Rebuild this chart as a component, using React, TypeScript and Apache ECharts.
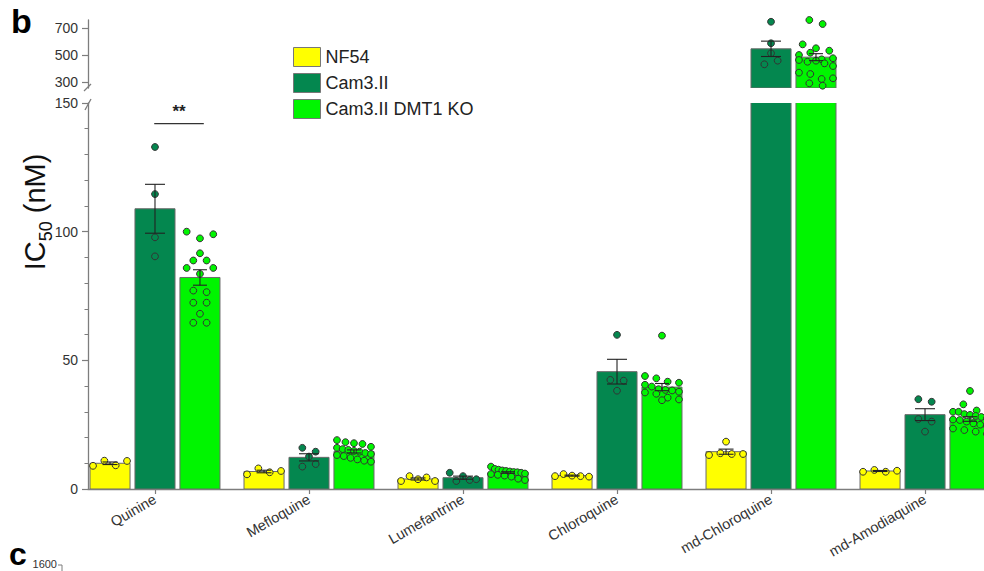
import React, { useEffect, useRef } from "react";
import * as echarts from "echarts";

// Drugs on the x axis and strains in the legend
const drugs = ["Quinine", "Mefloquine", "Lumefantrine", "Chloroquine", "md-Chloroquine", "md-Amodiaquine"];
const strains = ["NF54", "Cam3.II", "Cam3.II DMT1 KO"];
const strainColors = ["#FFFF00", "#04874F", "#00F500"];

// Mean IC50 (nM) per drug
const meanNF54 = [10.0, 6.8, 3.9, 5.2, 14.5, 7.0];
const meanCam3 = [108.9, 12.3, 4.4, 45.6, 546, 28.9];
const meanKO = [82.2, 14.6, 6.4, 39.6, 484, 27.2];

// Standard error of the mean
const semNF54 = [0.5, 0.5, 0.4, 0.2, 1.0, 0.2];
const semCam3 = [9.5, 1.4, 0.6, 4.8, 57, 2.3];
const semKO = [3.0, 0.6, 0.3, 1.4, 26, 0.9];

// Individual replicate IC50 values (nM)
const ptsNF54 = [
  [9.0, 11.0, 9.2, 10.9],
  [5.7, 8.0, 6.5, 7.0],
  [3.1, 5.0, 3.8, 4.5, 3.1],
  [5.0, 5.8, 5.2, 5.0, 4.8],
  [18.4, 13.2, 13.9, 13.6, 13.6],
  [6.7, 7.4, 6.7, 7.1],
];
const ptsCam3 = [
  [132.9, 114.6, 97.8, 90.4],
  [16.0, 14.5, 12.6, 8.7, 9.7],
  [6.3, 3.1, 5.0, 3.5, 3.8],
  [59.9, 42.4, 42.1, 38.2],
  [747, 587, 513, 431, 458],
  [34.9, 33.9, 27.2, 26.2, 22.3],
];
const ptsKO = [
  [100, 97.4, 99, 91.6, 88.8, 88.8, 85.9, 83.6, 85.9, 77.1, 76.5, 72.4, 72.4, 68.1, 64.6, 64.6],
  [19.0, 18.2, 17.8, 17.5, 16.4, 16.0, 15.5, 15.2, 14.8, 14.5, 14.0, 13.6, 13.2, 12.8, 12.1, 11.5, 11.0, 10.6],
  [8.7, 7.8, 7.5, 7.2, 7.0, 6.8, 6.6, 6.5, 6.3, 6.0, 5.8, 5.5, 5.2, 4.8, 4.0, 3.5],
  [59.6, 43.9, 43.0, 41.7, 41.3, 40.5, 39.8, 38.8, 38.5, 38.3, 37.8, 37.5, 37.0, 35.5, 34.8, 34.5],
  [760, 730, 579, 550, 532, 500, 517, 463, 468, 450, 458, 476, 438, 418, 369, 359, 322, 327, 290, 272],
  [38.1, 32.9, 30.5, 30.0, 30.0, 29.1, 28.8, 28.4, 28.0, 27.5, 27.0, 26.8, 26.2, 25.5, 25.0, 24.5, 23.5, 22.9, 22.3, 21.4],
];

// Significance bracket (Quinine, Cam3.II vs DMT1 KO)
const sigDrug = 0;
const sigLevel = 142;
const sigText = "**";

// Axis tick labels
const lowerTicks = [0, 50, 100, 150];
const upperLabelTicks = [300, 500, 700];
const upperMinorTicks = [350, 400, 450, 550, 600, 650];

const means = [meanNF54, meanCam3, meanKO];
const sems = [semNF54, semCam3, semKO];
const points = [ptsNF54, ptsCam3, ptsKO];

const FONT = "'Liberation Sans', Arial, Helvetica, sans-serif";
const AXIS_COLOR = "#7d7d7d";
const LABEL_COLOR = "#333";
const OFFSETS = [-0.292, 0, 0.292];
const BAR_W = 0.26;
const CAP_PX = [15, 20, 14];
const LOWER_MAX = 150;
const UPPER_MIN = 255;
const UPPER_MAX = 760;
const R = 3.4;
const ROW_H = 7;
const ROW_STEP = 13.3;
const ROW_SPAN = 34;
const X_MIN = -0.435;
const X_MAX = 5.383;

// Scatter-dot layout: points whose pixel heights lie within one row are spread
// symmetrically about the bar centre, squeezed to fit inside the bar.
function rowLayout(ys: number[]): number[] {
  const order = ys.map((_, i) => i).sort((a, b) => ys[a] - ys[b]);
  const dx = new Array(ys.length).fill(0);
  let row: number[] = [];
  let start = 0;
  const flush = () => {
    const r = row.slice().sort((a, b) => a - b);
    const n = r.length;
    const step = n > 1 ? Math.min(ROW_STEP, ROW_SPAN / (n - 1)) : 0;
    r.forEach((idx, k) => {
      dx[idx] = (k - (n - 1) / 2) * step;
    });
  };
  for (const i of order) {
    if (row.length && ys[i] - start > ROW_H) {
      flush();
      row = [];
    }
    if (!row.length) start = ys[i];
    row.push(i);
  }
  if (row.length) flush();
  return dx;
}

function barSeries(s: number, upper: boolean) {
  const base = upper ? UPPER_MIN : 0;
  return {
    type: "custom",
    name: strains[s],
    xAxisIndex: upper ? 1 : 0,
    yAxisIndex: upper ? 1 : 0,
    clip: true,
    z: 2,
    itemStyle: { color: strainColors[s], borderColor: "#666", borderWidth: 1 },
    encode: { x: 0, y: 1 },
    data: means[s].map((m, i) => [i, m]),
    renderItem: (params: any, api: any) => {
      const x = api.value(0) + OFFSETS[s];
      const v = api.value(1);
      if (v <= base) return { type: "group", children: [] };
      const top = api.coord([x, v]);
      const bot = api.coord([x, base]);
      const w = api.size([BAR_W, 0])[0];
      return {
        type: "rect",
        shape: { x: top[0] - w / 2, y: top[1], width: w, height: bot[1] - top[1] },
        style: { fill: strainColors[s], stroke: "#6a6a6a", lineWidth: 1 },
      };
    },
  };
}

function errorSeries(s: number, upper: boolean) {
  return {
    type: "custom",
    name: strains[s] + " SEM",
    xAxisIndex: upper ? 1 : 0,
    yAxisIndex: upper ? 1 : 0,
    clip: true,
    z: 4,
    encode: { x: 0, y: 1 },
    data: means[s].map((m, i) => [i, m, sems[s][i]]),
    renderItem: (params: any, api: any) => {
      const x = api.value(0) + OFFSETS[s];
      const m = api.value(1);
      const e = api.value(2);
      const hi = api.coord([x, m + e]);
      const lo = api.coord([x, m - e]);
      const half = CAP_PX[s] / 2;
      const st = { stroke: "#222", lineWidth: 1.1 };
      return {
        type: "group",
        children: [
          { type: "line", shape: { x1: hi[0], y1: hi[1], x2: lo[0], y2: lo[1] }, style: st },
          { type: "line", shape: { x1: hi[0] - half, y1: hi[1], x2: hi[0] + half, y2: hi[1] }, style: st },
          { type: "line", shape: { x1: lo[0] - half, y1: lo[1], x2: lo[0] + half, y2: lo[1] }, style: st },
        ],
      };
    },
  };
}

function pointSeries(s: number, upper: boolean) {
  return {
    type: "custom",
    name: strains[s] + " replicates",
    xAxisIndex: upper ? 1 : 0,
    yAxisIndex: upper ? 1 : 0,
    clip: false,
    z: 3,
    encode: { x: 0, y: 1 },
    data: points[s].map((_, i) => [i, 0]),
    renderItem: (params: any, api: any) => {
      const i = api.value(0);
      const vals = points[s][i].filter((v) => (upper ? v > LOWER_MAX : v <= LOWER_MAX));
      const x = i + OFFSETS[s];
      const cs = vals.map((v) => api.coord([x, v]));
      const dx = rowLayout(cs.map((c) => c[1]));
      return {
        type: "group",
        children: cs.map((c, k) => ({
          type: "circle",
          shape: { cx: c[0] + dx[k], cy: c[1], r: R },
          style: { fill: strainColors[s], stroke: "#333", lineWidth: 1 },
        })),
      };
    },
  };
}

const sigSeries = {
  type: "custom",
  name: "significance",
  xAxisIndex: 0,
  yAxisIndex: 0,
  clip: false,
  z: 5,
  encode: { x: 0, y: 1 },
  data: [[sigDrug, sigLevel]],
  renderItem: (params: any, api: any) => {
    const d = api.value(0);
    const y = api.value(1);
    const a = api.coord([d + OFFSETS[1] - 0.005, y]);
    const b = api.coord([d + OFFSETS[2] + 0.025, y]);
    return {
      type: "group",
      children: [
        { type: "line", shape: { x1: a[0], y1: a[1], x2: b[0], y2: b[1] }, style: { stroke: "#333", lineWidth: 1.2 } },
        {
          type: "text",
          x: (a[0] + b[0]) / 2,
          y: a[1] - 4,
          style: { text: sigText, fontSize: 17, fontWeight: "bold", fontFamily: FONT, fill: "#222", align: "center", verticalAlign: "bottom" },
        },
      ],
    };
  },
};

function buildOption() {
  const series: any[] = [];
  for (let s = 0; s < 3; s++) {
    series.push(barSeries(s, false), barSeries(s, true));
  }
  for (let s = 0; s < 3; s++) {
    series.push(pointSeries(s, false), pointSeries(s, true));
  }
  for (let s = 0; s < 3; s++) {
    series.push(errorSeries(s, false), errorSeries(s, true));
  }
  series.push(sigSeries);

  const axisLine = { show: true, onZero: false, lineStyle: { color: AXIS_COLOR, width: 1.3 } };

  return {
    animation: false,
    backgroundColor: "#ffffff",
    textStyle: { fontFamily: FONT },
    grid: [
      { left: 88, right: 0, top: 103, bottom: 571 - 489, outerBoundsMode: "none" },
      { left: 88, right: 0, top: 20, height: 68, outerBoundsMode: "none" },
    ],
    legend: {
      orient: "vertical",
      left: 288,
      top: 42,
      itemWidth: 27,
      itemHeight: 19,
      itemGap: 6,
      icon: "rect",
      selectedMode: false,
      textStyle: { fontSize: 18, color: "#222", fontFamily: FONT },
      data: strains.map((n, i) => ({
        name: n,
        itemStyle: { color: strainColors[i], borderColor: "#777", borderWidth: 1 },
      })),
    },
    xAxis: [
      {
        type: "value",
        gridIndex: 0,
        min: X_MIN,
        max: X_MAX,
        axisLine,
        splitLine: { show: false },
        axisTick: { show: true, customValues: drugs.map((_, i) => i), length: 5, lineStyle: { color: AXIS_COLOR, width: 1.2 } },
        axisLabel: {
          show: true,
          customValues: drugs.map((_, i) => i),
          formatter: (v: number) => drugs[Math.round(v)],
          rotate: 30,
          margin: 9,
          fontSize: 14.5,
          color: LABEL_COLOR,
          fontFamily: FONT,
          hideOverlap: false,
        },
      },
      {
        type: "value",
        gridIndex: 1,
        min: X_MIN,
        max: X_MAX,
        show: false,
        splitLine: { show: false },
      },
    ],
    yAxis: [
      {
        type: "value",
        gridIndex: 0,
        min: 0,
        max: LOWER_MAX,
        interval: 50,
        axisLine,
        splitLine: { show: false },
        axisTick: { show: true, length: 6, customValues: lowerTicks, lineStyle: { color: AXIS_COLOR, width: 1.2 } },
        minorTick: { show: true, splitNumber: 5, length: 3.5, lineStyle: { color: AXIS_COLOR, width: 1 } },
        axisLabel: { customValues: lowerTicks, fontSize: 14, color: LABEL_COLOR, margin: 10, fontFamily: FONT },
      },
      {
        type: "value",
        gridIndex: 1,
        min: UPPER_MIN,
        max: UPPER_MAX,
        axisLine,
        splitLine: { show: false },
        axisTick: { show: true, length: 6, customValues: upperLabelTicks, lineStyle: { color: AXIS_COLOR, width: 1.2 } },
        axisLabel: { customValues: upperLabelTicks, fontSize: 14, color: LABEL_COLOR, margin: 10, fontFamily: FONT },
      },
      {
        type: "value",
        gridIndex: 1,
        min: UPPER_MIN,
        max: UPPER_MAX,
        axisLine: { show: false, onZero: false },
        splitLine: { show: false },
        axisTick: { show: true, length: 3.5, customValues: upperMinorTicks, lineStyle: { color: AXIS_COLOR, width: 1 } },
        axisLabel: { show: false },
      },
    ],
    graphic: [
      {
        type: "text",
        left: 11,
        top: 4,
        style: { text: "b", fontSize: 34, fontWeight: "bold", fontFamily: FONT, fill: "#000" },
      },
      {
        type: "text",
        x: 35,
        y: 212,
        rotation: Math.PI / 2,
        style: {
          text: "{m|IC}{s|50}{m| (nM)}",
          align: "center",
          verticalAlign: "middle",
          rich: {
            m: { fontSize: 29, fontFamily: FONT, fill: "#111", lineHeight: 40, verticalAlign: "middle" },
            s: { fontSize: 18, fontFamily: FONT, fill: "#111", lineHeight: 18, verticalAlign: "bottom" },
          },
        },
      },
      // axis break marks
      { type: "line", shape: { x1: 84, y1: 91, x2: 91, y2: 84 }, style: { stroke: AXIS_COLOR, lineWidth: 1.3 } },
      { type: "line", shape: { x1: 85, y1: 110, x2: 91, y2: 99 }, style: { stroke: AXIS_COLOR, lineWidth: 1.3 } },
      // start of the following panel
      {
        type: "text",
        left: 9,
        top: 538,
        style: { text: "c", fontSize: 32, fontWeight: "bold", fontFamily: FONT, fill: "#000" },
      },
      {
        type: "text",
        x: 57,
        y: 564,
        style: { text: "1600", fontSize: 11, fontFamily: FONT, fill: LABEL_COLOR, align: "right", verticalAlign: "middle" },
      },
      { type: "line", shape: { x1: 58, y1: 565, x2: 62, y2: 565 }, style: { stroke: AXIS_COLOR, lineWidth: 1 } },
      { type: "line", shape: { x1: 62, y1: 565, x2: 62, y2: 572 }, style: { stroke: AXIS_COLOR, lineWidth: 1 } },
    ],
    series,
  };
}

export default function App() {
  const ref = useRef<HTMLDivElement>(null);
  useEffect(() => {
    if (!ref.current) return;
    const chart = echarts.init(ref.current, undefined, { renderer: "svg" });
    chart.setOption(buildOption() as any);
    return () => chart.dispose();
  }, []);
  return (
    <div
      ref={ref}
      style={{ position: "absolute", left: 0, top: 0, width: 984, height: 571, background: "#fff" }}
    />
  );
}
